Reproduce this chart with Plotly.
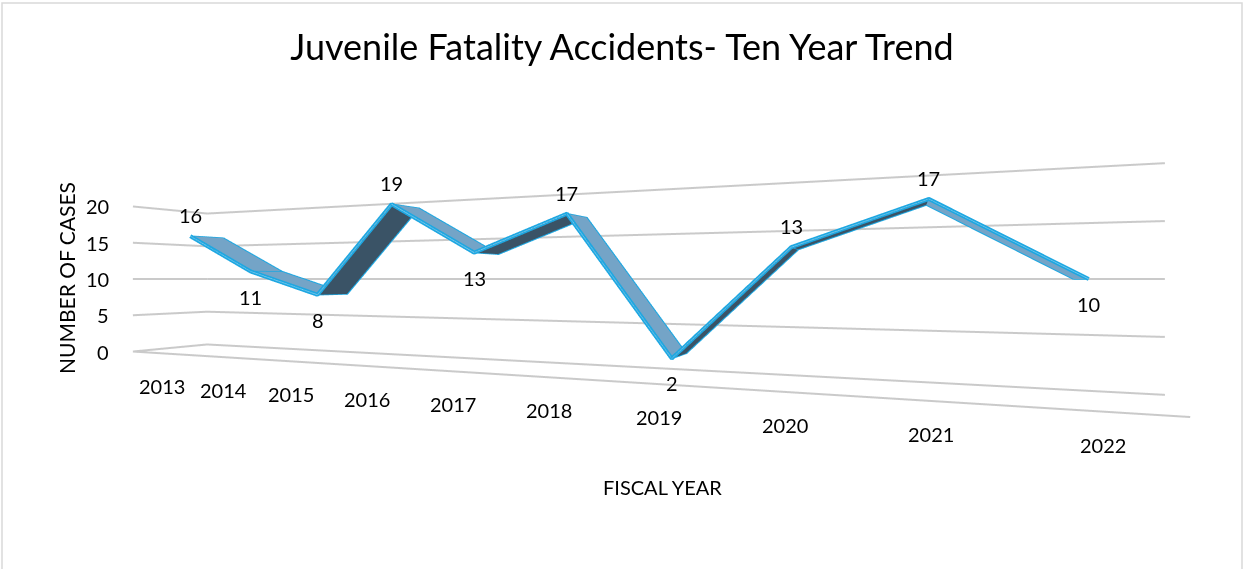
import plotly.graph_objects as go

# ---- data ----
years = ["2013", "2014", "2015", "2016", "2017", "2018", "2019", "2020", "2021", "2022"]
cases = [16, 11, 8, 19, 13, 17, 2, 13, 17, 10]
z_ticks = [0, 5, 10, 15, 20]

title_text = "Juvenile Fatality Accidents- Ten Year Trend"
y_title = "NUMBER OF CASES"
x_title = "FISCAL YEAR"

# ---- style ----
FRONT, BACK = 0.37, 0.83          # ribbon depth inside the [0, 1] depth axis
LIGHT, DARK = "#74A4C7", "#3A5366"
EDGE = "#1EA7E1"
EDGE_HI = "#86CFF0"
GRID = "#CACACA"
FONT = "Lato, Carlito, Calibri, sans-serif"
BACK_END, FRONT_END = 9.6, 9.45   # right ends of back-wall grid and floor front edge

# ---- 3D view geometry (world units = value units) ----
S = 20.0
KX, KY = 11.78, 10.8
CAM = (97.42, -60.70, 10.0)
DIR = (-0.376, 0.9264, 0.0)
XR, YR, ZR = [-0.8, 9.9], [-0.1, 1.0], [-1.0, 20.0]


def world(x, y, z):
    return ((x + 0.5) * KX, y * KY, z)


cbox = world((XR[0] + XR[1]) / 2, (YR[0] + YR[1]) / 2, (ZR[0] + ZR[1]) / 2)
aspect = dict(x=(XR[1] - XR[0]) * KX / S, y=(YR[1] - YR[0]) * KY / S, z=(ZR[1] - ZR[0]) / S)
eye = [(CAM[i] - cbox[i]) / S for i in range(3)]
look = [(CAM[i] + 70 * DIR[i] - cbox[i]) / S for i in range(3)]

n = len(cases)
idx = list(range(n))

fig = go.Figure()

# gridlines: left wall + back wall for each tick, plus floor front edge
gx, gy, gz = [], [], []
for t in z_ticks:
    gx += [-0.5, -0.5, BACK_END, None]
    gy += [0, 1, 1, None]
    gz += [t, t, t, None]
gx += [-0.5, FRONT_END, None]
gy += [0, 0, None]
gz += [0, 0, None]
fig.add_trace(go.Scatter3d(x=gx, y=gy, z=gz, mode="lines",
                           line=dict(color=GRID, width=4), hoverinfo="skip"))

# ribbon mesh
xs, ys, zs = [], [], []
for i, v in zip(idx, cases):
    xs += [i, i]
    ys += [FRONT, BACK]
    zs += [v, v]
I, J, K, fc = [], [], [], []
for s in range(n - 1):
    a, b, c, d = 2 * s, 2 * s + 1, 2 * s + 2, 2 * s + 3
    col = LIGHT if cases[s + 1] < cases[s] else DARK
    I += [a, b]
    J += [c, d]
    K += [b, c]
    fc += [col, col]
fig.add_trace(go.Mesh3d(
    x=xs, y=ys, z=zs, i=I, j=J, k=K, facecolor=fc, flatshading=True,
    lighting=dict(ambient=1, diffuse=0, specular=0, roughness=1, fresnel=0),
    hoverinfo="skip", showscale=False,
))

# ribbon outline: fold lines, back edge, front edge
fx, fy, fz = [], [], []
for i in idx:
    fx += [i, i, None]
    fy += [FRONT, BACK, None]
    fz += [cases[i], cases[i], None]
fig.add_trace(go.Scatter3d(x=fx, y=fy, z=fz, mode="lines",
                           line=dict(color=EDGE, width=3), hoverinfo="skip"))
fig.add_trace(go.Scatter3d(x=idx, y=[BACK] * n, z=cases, mode="lines",
                           line=dict(color=EDGE, width=4), hoverinfo="skip"))
fig.add_trace(go.Scatter3d(x=idx, y=[FRONT] * n, z=cases, mode="lines",
                           line=dict(color=EDGE, width=8), hoverinfo="skip"))
fig.add_trace(go.Scatter3d(x=idx, y=[FRONT] * n, z=cases, mode="lines",
                           line=dict(color=EDGE_HI, width=1.5), hoverinfo="skip"))

# scene annotations: data labels, year labels, value ticks
scene_ann = []
for k in idx:
    above = k == 0 or cases[k] >= cases[k - 1]
    scene_ann.append(dict(x=k, y=FRONT, z=cases[k], text=str(cases[k]), showarrow=False,
                          xanchor="center", yanchor="middle",
                          yshift=21 if above else -25,
                          font=dict(family=FONT, size=20, color="#000000")))
for k in idx:
    scene_ann.append(dict(x=k, y=0, z=0, text=years[k], showarrow=False, yshift=-33,
                          xanchor="center", yanchor="middle",
                          font=dict(family=FONT, size=20, color="#000000")))
for t in z_ticks:
    scene_ann.append(dict(x=-0.5, y=0, z=t, text=str(t), showarrow=False, xanchor="right",
                          yanchor="middle", xshift=-22,
                          font=dict(family=FONT, size=20, color="#000000")))

hidden = dict(showbackground=False, showspikes=False, zeroline=False, showgrid=False,
              showline=False, showticklabels=False, ticks="", title=dict(text=""))
fig.update_layout(
    width=1244, height=569,
    margin=dict(l=0, r=0, t=0, b=11),
    paper_bgcolor="white",
    showlegend=False,
    hovermode=False,
    font=dict(family=FONT, color="#000000"),
    title=dict(text=title_text, x=0.5, xanchor="center", y=1 - 47 / 569, yanchor="middle",
               font=dict(family=FONT, size=36, color="#000000")),
    scene=dict(
        domain=dict(x=[0, 1], y=[0, 1]),
        aspectmode="manual",
        aspectratio=aspect,
        camera=dict(eye=dict(x=eye[0], y=eye[1], z=eye[2]),
                    center=dict(x=look[0], y=look[1], z=look[2]),
                    up=dict(x=0, y=0, z=1), projection=dict(type="perspective")),
        xaxis=dict(range=XR, **hidden),
        yaxis=dict(range=YR, **hidden),
        zaxis=dict(range=ZR, **hidden),
        annotations=scene_ann,
    ),
    annotations=[
        dict(text=y_title, x=66 / 1244, y=(558 - 278) / 558, xref="paper", yref="paper",
             xanchor="center", yanchor="middle",
             textangle=-90, showarrow=False, font=dict(family=FONT, size=21)),
        dict(text=x_title, x=662 / 1244, y=(558 - 487) / 558, xref="paper", yref="paper",
             xanchor="center", yanchor="middle",
             showarrow=False, font=dict(family=FONT, size=20)),
    ],
    shapes=[dict(type="rect", xref="paper", yref="paper", x0=2 / 1244, x1=1242 / 1244,
                 y0=-0.05, y1=1 - 3 / 558, line=dict(color="#D9D9D9", width=1.5))],
)

fig.write_html("out.html", config={"displayModeBar": False},
               post_script="document.body.style.margin='0';")
